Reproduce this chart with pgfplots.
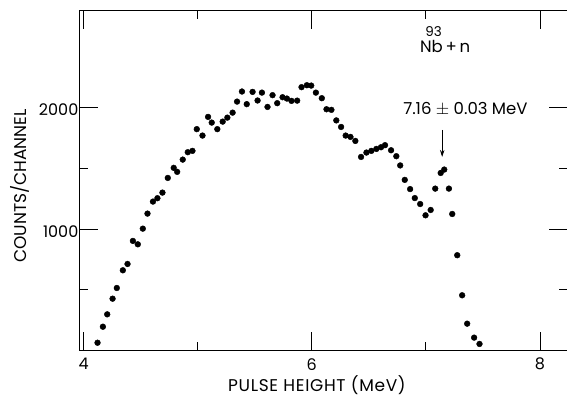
\documentclass[border=0pt]{standalone}
\usepackage{pgfplots}
\pgfplotsset{compat=1.18}
\usepackage{fontspec}
\setmainfont{Poppins}
\newfontfamily\spaced[LetterSpace=4]{Poppins}
\usetikzlibrary{calc,arrows.meta}
\begin{document}
\fontsize{16.5bp}{19bp}\selectfont
\begin{tikzpicture}
\begin{axis}[
  scale only axis,
  width=487.5bp, height=339.8bp,
  xmin=3.964, xmax=8.237, ymin=0, ymax=2800,
  xtick={4,6,8}, minor xtick={5,7},
  ytick={1000,2000}, minor ytick={500,1500},
  tick pos=both,
  major tick length=18bp, minor tick length=8bp,
  tick style={black, line width=0.9bp},
  axis line style={line width=1bp},
  /pgf/number format/assume math mode=true,
  /pgf/number format/1000 sep={},
  tick label style={font=\fontsize{16bp}{18bp}\selectfont},
  xticklabel style={yshift=-2bp},
  yticklabel style={inner xsep=1bp, yshift=-2bp},
  xlabel={PULSE HEIGHT (MeV)},
  ylabel={COUNTS/CHANNEL},
  xlabel style={at={(axis description cs:0.487,0)}, anchor=base, yshift=-41bp, font=\spaced\fontsize{17bp}{19bp}\selectfont},
  ylabel style={at={(axis description cs:0,0.484)}, anchor=center, yshift=59.5bp, font=\fontsize{17bp}{19bp}\selectfont},
  clip=false,
]
\addplot[only marks, mark=*, mark size=2.9bp, black] coordinates {
(4.122,64) (4.169,196) (4.207,298) (4.254,427) (4.291,515) (4.344,661)
(4.385,713) (4.432,903) (4.475,875) (4.519,1004) (4.560,1128) (4.608,1227)
(4.647,1255) (4.691,1301) (4.738,1422) (4.790,1505) (4.820,1472) (4.869,1573)
(4.913,1634) (4.954,1645) (4.992,1824) (5.042,1771) (5.091,1925) (5.123,1878)
(5.172,1824) (5.219,1886) (5.260,1919) (5.306,1960) (5.345,2051) (5.388,2134)
(5.430,2030) (5.481,2131) (5.525,2060) (5.563,2125) (5.612,2007) (5.656,2104)
(5.697,2038) (5.744,2087) (5.782,2076) (5.822,2057) (5.872,2059) (5.910,2170)
(5.957,2186) (5.995,2183) (6.036,2125) (6.088,2079) (6.129,1988) (6.172,1983)
(6.215,1896) (6.257,1842) (6.297,1771) (6.339,1760) (6.382,1727) (6.432,1595)
(6.479,1631) (6.522,1645) (6.566,1661) (6.607,1675) (6.642,1692) (6.695,1650)
(6.741,1601) (6.775,1525) (6.815,1406) (6.862,1330) (6.903,1256) (6.950,1207)
(6.997,1114) (7.042,1158) (7.082,1334) (7.130,1463) (7.161,1491) (7.202,1334)
(7.231,1125) (7.275,785) (7.318,455) (7.362,221) (7.423,106) (7.470,54)
};
\node[anchor=base west, inner sep=0pt] at (axis cs:6.948,2453) {Nb\llap{\raisebox{16bp}{\fontsize{13.5bp}{14bp}\selectfont 93}\hspace{1bp}}\,+\,n};
\node[anchor=base west, inner sep=0pt] at (axis cs:6.80,1941) {7.16 $\pm$ 0.03 MeV};
\draw[-{Stealth[length=7bp,width=4.5bp]}, line width=0.8bp] (axis cs:7.143,1818) -- (axis cs:7.143,1595);
\end{axis}
\pgfresetboundingbox
\path ($(current axis.south west)+(-79.5bp,-45.5bp)$) rectangle ($(current axis.north east)+(0bp,10.7bp)$);
\end{tikzpicture}
\end{document}
